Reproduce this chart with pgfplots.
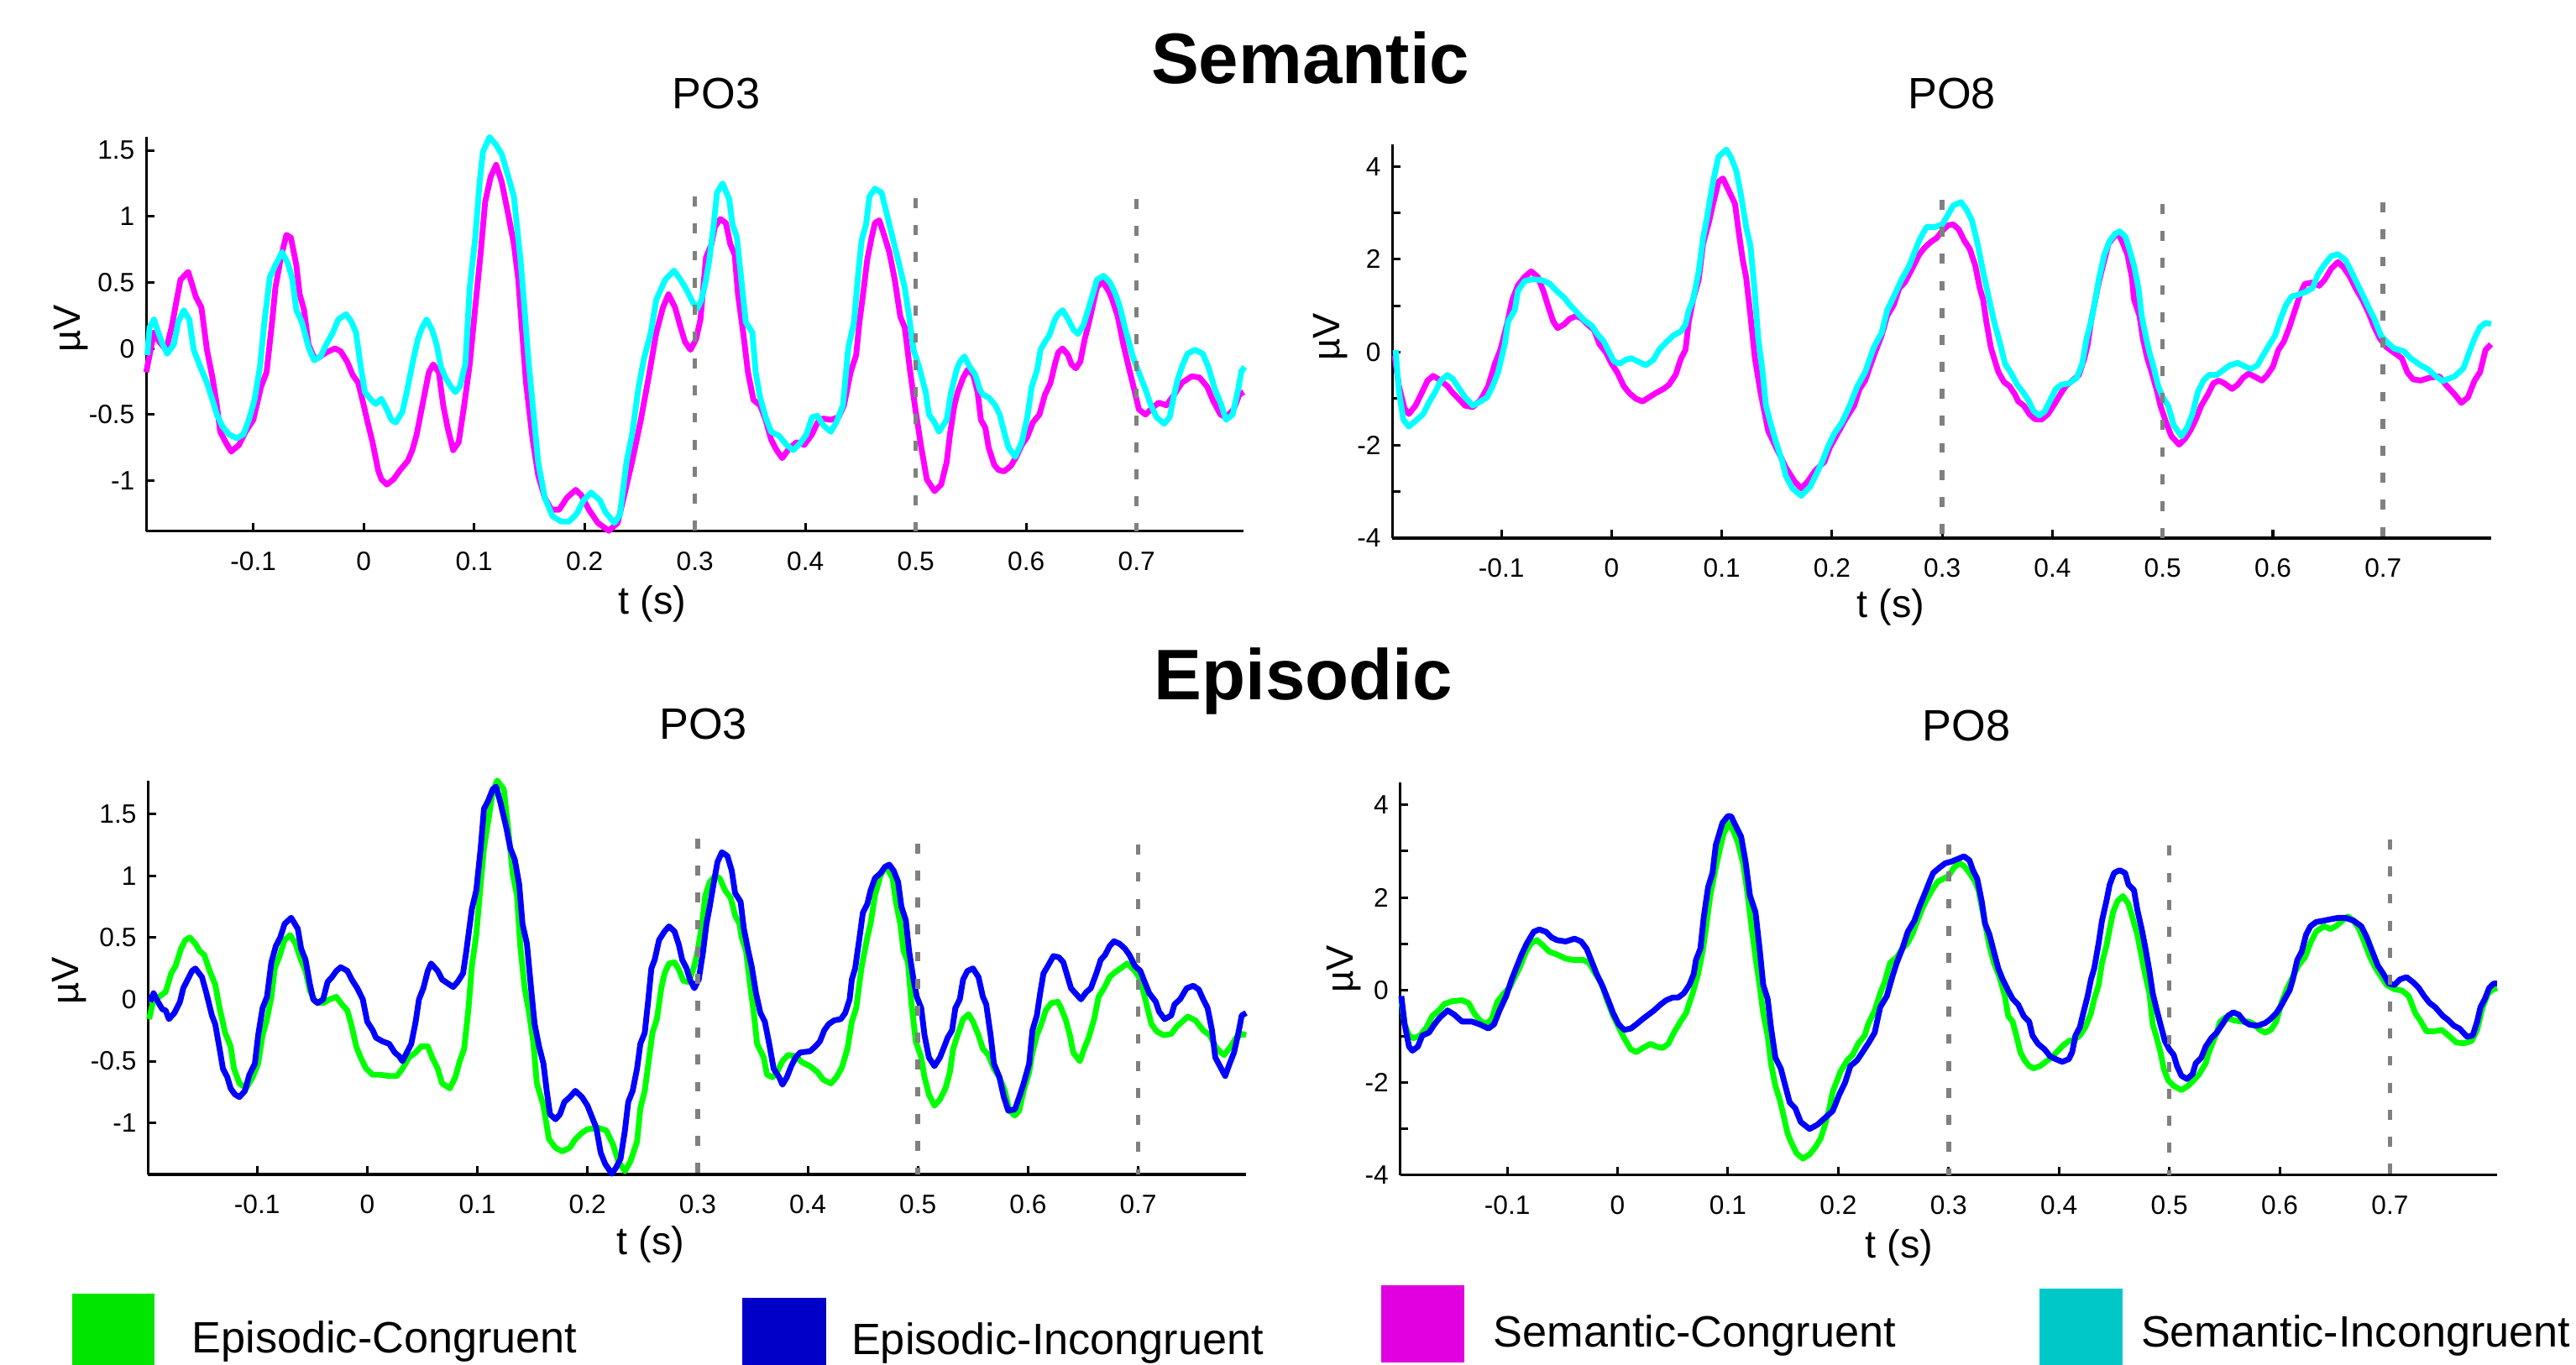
\documentclass[border=0pt]{standalone}
\usepackage{fontspec}
\setmainfont{Liberation Sans}
\usepackage{pgfplots}
\usepackage{pgfplotstable}
\pgfplotsset{compat=1.18}

\definecolor{cmag}{RGB}{255,0,255}
\definecolor{ccya}{RGB}{0,255,255}
\definecolor{cgre}{RGB}{0,255,0}
\definecolor{cblu}{RGB}{0,0,255}
\definecolor{lgre}{RGB}{0,229,0}
\definecolor{lblu}{RGB}{0,0,200}
\definecolor{lmag}{RGB}{224,0,224}
\definecolor{lcya}{RGB}{0,200,200}
\definecolor{dgray}{RGB}{128,128,128}

% ---- semantic, PO3
\pgfplotstableread{
t v
-0.197 -0.18
-0.190 0.12
-0.185 0.05
-0.179 -0.01
-0.174 0.16
-0.166 0.52
-0.159 0.58
-0.152 0.39
-0.147 0.31
-0.142 -0.01
-0.137 -0.22
-0.133 -0.43
-0.130 -0.63
-0.125 -0.71
-0.120 -0.78
-0.113 -0.73
-0.107 -0.63
-0.100 -0.54
-0.093 -0.29
-0.088 -0.18
-0.083 0.20
-0.080 0.46
-0.075 0.69
-0.070 0.86
-0.066 0.84
-0.061 0.63
-0.058 0.41
-0.054 0.29
-0.050 0.03
-0.045 -0.07
-0.041 -0.07
-0.034 -0.03
-0.026 0.00
-0.021 -0.02
-0.015 -0.10
-0.010 -0.20
-0.005 -0.26
0.000 -0.43
0.003 -0.54
0.008 -0.71
0.013 -0.92
0.016 -0.99
0.021 -1.03
0.027 -0.99
0.033 -0.92
0.040 -0.85
0.044 -0.77
0.048 -0.65
0.051 -0.52
0.055 -0.35
0.059 -0.18
0.063 -0.12
0.068 -0.18
0.072 -0.43
0.076 -0.60
0.081 -0.77
0.086 -0.71
0.091 -0.43
0.096 -0.12
0.101 0.31
0.106 0.73
0.110 1.11
0.115 1.30
0.120 1.39
0.125 1.26
0.131 1.01
0.136 0.79
0.140 0.52
0.144 0.07
0.147 -0.26
0.153 -0.69
0.158 -0.96
0.164 -1.13
0.170 -1.22
0.177 -1.22
0.184 -1.13
0.192 -1.07
0.197 -1.11
0.204 -1.22
0.212 -1.32
0.222 -1.38
0.230 -1.32
0.236 -1.11
0.243 -0.86
0.251 -0.54
0.258 -0.22
0.265 0.12
0.271 0.31
0.276 0.41
0.282 0.31
0.287 0.16
0.291 0.05
0.296 -0.01
0.301 0.07
0.305 0.22
0.310 0.69
0.315 0.79
0.318 0.92
0.323 0.98
0.328 0.95
0.332 0.79
0.336 0.71
0.339 0.41
0.344 0.10
0.348 -0.18
0.353 -0.39
0.359 -0.43
0.364 -0.54
0.369 -0.69
0.374 -0.77
0.379 -0.83
0.385 -0.76
0.392 -0.71
0.399 -0.73
0.406 -0.65
0.411 -0.56
0.416 -0.53
0.423 -0.54
0.430 -0.52
0.435 -0.43
0.441 -0.18
0.446 -0.05
0.449 0.20
0.453 0.46
0.456 0.67
0.460 0.84
0.463 0.95
0.467 0.97
0.472 0.84
0.476 0.73
0.481 0.52
0.486 0.24
0.490 0.16
0.495 -0.18
0.500 -0.48
0.505 -0.75
0.510 -0.99
0.517 -1.08
0.523 -1.03
0.528 -0.86
0.531 -0.65
0.535 -0.43
0.538 -0.33
0.543 -0.22
0.547 -0.16
0.552 -0.20
0.556 -0.33
0.559 -0.54
0.563 -0.60
0.566 -0.75
0.571 -0.88
0.575 -0.92
0.580 -0.93
0.586 -0.89
0.591 -0.82
0.596 -0.73
0.601 -0.67
0.606 -0.56
0.612 -0.50
0.617 -0.35
0.622 -0.26
0.626 -0.12
0.629 -0.03
0.633 0.00
0.638 -0.05
0.641 -0.12
0.645 -0.15
0.649 -0.10
0.653 0.07
0.657 0.20
0.661 0.35
0.664 0.46
0.669 0.51
0.675 0.43
0.678 0.37
0.683 0.24
0.688 0.03
0.694 -0.18
0.699 -0.35
0.702 -0.46
0.708 -0.50
0.713 -0.46
0.720 -0.41
0.727 -0.43
0.734 -0.35
0.741 -0.26
0.750 -0.21
0.757 -0.22
0.764 -0.29
0.769 -0.39
0.776 -0.50
0.781 -0.52
0.788 -0.46
0.793 -0.35
0.797 -0.33
}\semPOthreeCon

\pgfplotstableread{
t v
-0.196 -0.05
-0.194 0.16
-0.190 0.22
-0.186 0.12
-0.182 0.03
-0.178 -0.04
-0.172 0.03
-0.168 0.20
-0.163 0.29
-0.158 0.22
-0.154 -0.01
-0.148 -0.14
-0.142 -0.26
-0.137 -0.39
-0.133 -0.50
-0.128 -0.59
-0.122 -0.65
-0.115 -0.68
-0.109 -0.65
-0.104 -0.54
-0.099 -0.39
-0.094 -0.14
-0.090 0.20
-0.085 0.54
-0.080 0.63
-0.074 0.73
-0.069 0.65
-0.065 0.54
-0.061 0.29
-0.056 0.20
-0.050 0.01
-0.045 -0.09
-0.039 -0.06
-0.034 0.03
-0.028 0.12
-0.023 0.22
-0.016 0.26
-0.011 0.20
-0.007 0.12
-0.003 -0.12
0.001 -0.33
0.007 -0.39
0.011 -0.42
0.016 -0.38
0.022 -0.48
0.025 -0.54
0.029 -0.56
0.035 -0.48
0.039 -0.33
0.044 -0.12
0.049 0.07
0.053 0.16
0.057 0.22
0.062 0.14
0.066 0.03
0.070 -0.14
0.074 -0.22
0.079 -0.29
0.083 -0.33
0.087 -0.29
0.092 -0.12
0.096 0.46
0.101 0.84
0.105 1.26
0.108 1.49
0.114 1.60
0.120 1.54
0.125 1.47
0.131 1.30
0.136 1.15
0.142 0.67
0.145 0.37
0.149 -0.07
0.155 -0.60
0.158 -0.86
0.164 -1.13
0.171 -1.27
0.179 -1.31
0.186 -1.31
0.193 -1.25
0.199 -1.15
0.206 -1.09
0.214 -1.15
0.219 -1.24
0.227 -1.32
0.232 -1.26
0.238 -0.86
0.243 -0.65
0.249 -0.29
0.254 -0.07
0.260 0.12
0.265 0.37
0.273 0.52
0.281 0.59
0.287 0.52
0.292 0.45
0.298 0.35
0.302 0.30
0.306 0.37
0.310 0.52
0.313 0.67
0.317 0.94
0.320 1.18
0.325 1.25
0.331 1.13
0.334 0.94
0.338 0.84
0.342 0.52
0.346 0.20
0.352 0.12
0.355 -0.18
0.359 -0.37
0.364 -0.52
0.369 -0.63
0.376 -0.66
0.383 -0.73
0.389 -0.77
0.395 -0.72
0.401 -0.65
0.406 -0.52
0.411 -0.51
0.416 -0.58
0.423 -0.63
0.428 -0.56
0.434 -0.43
0.439 0.01
0.444 0.20
0.448 0.58
0.451 0.82
0.455 0.94
0.458 1.15
0.463 1.21
0.469 1.18
0.474 1.01
0.479 0.84
0.484 0.67
0.490 0.46
0.494 0.24
0.498 -0.01
0.503 -0.14
0.509 -0.33
0.512 -0.50
0.517 -0.56
0.521 -0.63
0.528 -0.54
0.532 -0.33
0.537 -0.16
0.540 -0.10
0.544 -0.06
0.549 -0.14
0.554 -0.20
0.558 -0.31
0.561 -0.35
0.566 -0.37
0.572 -0.43
0.576 -0.50
0.580 -0.63
0.584 -0.75
0.590 -0.82
0.596 -0.71
0.601 -0.52
0.605 -0.29
0.610 -0.16
0.613 -0.01
0.617 0.05
0.621 0.10
0.626 0.22
0.629 0.26
0.633 0.29
0.638 0.22
0.643 0.14
0.647 0.11
0.652 0.18
0.656 0.29
0.661 0.43
0.664 0.52
0.670 0.55
0.676 0.50
0.681 0.41
0.685 0.31
0.690 0.14
0.697 -0.07
0.702 -0.18
0.708 -0.31
0.713 -0.43
0.718 -0.52
0.725 -0.57
0.730 -0.52
0.734 -0.35
0.737 -0.24
0.741 -0.14
0.746 -0.04
0.753 -0.01
0.760 -0.04
0.765 -0.14
0.771 -0.31
0.776 -0.41
0.781 -0.54
0.787 -0.50
0.792 -0.31
0.795 -0.17
0.798 -0.14
}\semPOthreeInc

% ---- semantic, PO8
\pgfplotstableread{
t v
-0.197 -0.07
-0.193 -0.73
-0.188 -1.21
-0.184 -1.33
-0.178 -1.15
-0.173 -0.91
-0.167 -0.61
-0.162 -0.51
-0.157 -0.58
-0.149 -0.73
-0.144 -0.88
-0.139 -1.00
-0.133 -1.15
-0.126 -1.18
-0.119 -1.03
-0.112 -0.73
-0.106 -0.25
-0.101 0.05
-0.095 0.60
-0.090 1.14
-0.085 1.44
-0.079 1.62
-0.073 1.74
-0.067 1.62
-0.062 1.32
-0.058 1.02
-0.053 0.66
-0.049 0.52
-0.043 0.60
-0.038 0.72
-0.032 0.78
-0.027 0.72
-0.022 0.60
-0.016 0.48
-0.011 0.17
-0.005 -0.01
0.000 -0.25
0.005 -0.43
0.011 -0.73
0.016 -0.88
0.022 -1.00
0.028 -1.06
0.034 -0.97
0.040 -0.88
0.047 -0.79
0.052 -0.70
0.058 -0.49
0.063 -0.13
0.067 0.05
0.070 0.66
0.074 1.14
0.079 1.56
0.083 2.34
0.088 2.77
0.092 3.19
0.097 3.67
0.101 3.74
0.106 3.49
0.112 3.19
0.115 2.64
0.119 1.98
0.122 1.62
0.126 0.78
0.130 -0.13
0.135 -0.85
0.139 -1.33
0.142 -1.69
0.148 -1.99
0.153 -2.23
0.158 -2.48
0.166 -2.78
0.172 -2.93
0.178 -2.78
0.185 -2.54
0.193 -2.36
0.198 -2.05
0.205 -1.75
0.212 -1.45
0.220 -1.15
0.225 -0.79
0.230 -0.61
0.238 -0.07
0.245 0.36
0.250 0.78
0.256 1.02
0.261 1.38
0.266 1.50
0.274 1.86
0.279 2.10
0.284 2.25
0.289 2.36
0.295 2.46
0.300 2.61
0.305 2.73
0.310 2.75
0.315 2.64
0.320 2.40
0.325 2.22
0.330 1.86
0.334 1.38
0.337 1.14
0.340 0.66
0.344 0.11
0.347 -0.13
0.351 -0.43
0.356 -0.64
0.361 -0.73
0.366 -0.91
0.369 -1.06
0.374 -1.15
0.379 -1.33
0.384 -1.44
0.390 -1.45
0.396 -1.33
0.401 -1.15
0.407 -0.91
0.412 -0.73
0.418 -0.61
0.424 -0.49
0.429 -0.13
0.432 0.17
0.435 0.66
0.439 1.14
0.442 1.50
0.447 1.98
0.451 2.34
0.456 2.49
0.460 2.55
0.464 2.34
0.468 2.10
0.472 1.62
0.474 1.14
0.479 0.78
0.482 0.30
0.486 -0.13
0.490 -0.43
0.495 -0.85
0.498 -1.15
0.503 -1.51
0.508 -1.81
0.515 -1.99
0.520 -1.87
0.525 -1.69
0.530 -1.45
0.535 -1.15
0.541 -0.91
0.546 -0.67
0.551 -0.61
0.556 -0.67
0.563 -0.79
0.568 -0.70
0.573 -0.55
0.578 -0.46
0.583 -0.52
0.590 -0.61
0.595 -0.49
0.600 -0.31
0.605 0.05
0.610 0.23
0.615 0.54
0.620 0.90
0.625 1.26
0.629 1.47
0.636 1.50
0.642 1.43
0.647 1.56
0.653 1.80
0.659 1.94
0.664 1.83
0.670 1.62
0.675 1.38
0.681 1.14
0.687 0.84
0.692 0.54
0.697 0.30
0.703 0.11
0.710 -0.01
0.717 -0.13
0.722 -0.43
0.727 -0.58
0.734 -0.61
0.742 -0.55
0.751 -0.52
0.758 -0.73
0.765 -0.91
0.771 -1.09
0.777 -0.97
0.783 -0.61
0.788 -0.43
0.793 0.05
0.798 0.17
}\semPOeightCon

\pgfplotstableread{
t v
-0.196 0.05
-0.193 -0.85
-0.189 -1.45
-0.184 -1.60
-0.178 -1.48
-0.171 -1.33
-0.166 -1.09
-0.160 -0.85
-0.155 -0.61
-0.149 -0.49
-0.144 -0.58
-0.139 -0.76
-0.133 -0.97
-0.126 -1.15
-0.119 -1.06
-0.113 -0.97
-0.108 -0.73
-0.103 -0.43
-0.097 0.17
-0.094 0.66
-0.088 0.90
-0.085 1.32
-0.079 1.53
-0.072 1.57
-0.063 1.55
-0.056 1.47
-0.050 1.32
-0.043 1.17
-0.038 1.02
-0.032 0.87
-0.025 0.69
-0.018 0.57
-0.013 0.39
-0.007 0.23
-0.002 -0.01
0.002 -0.19
0.007 -0.25
0.013 -0.16
0.018 -0.13
0.023 -0.19
0.031 -0.28
0.038 -0.16
0.043 0.05
0.049 0.20
0.056 0.36
0.063 0.45
0.067 0.60
0.070 0.90
0.074 1.14
0.079 1.74
0.083 2.46
0.086 2.83
0.092 3.67
0.097 4.21
0.104 4.36
0.108 4.21
0.113 3.91
0.117 3.43
0.122 2.70
0.126 2.28
0.130 1.26
0.133 0.30
0.137 -0.43
0.140 -1.15
0.144 -1.51
0.149 -1.93
0.155 -2.36
0.158 -2.66
0.164 -2.93
0.172 -3.09
0.180 -2.90
0.185 -2.66
0.191 -2.36
0.196 -2.05
0.202 -1.75
0.209 -1.51
0.216 -1.15
0.223 -0.73
0.230 -0.43
0.238 0.11
0.245 0.42
0.250 0.90
0.256 1.20
0.263 1.56
0.270 1.86
0.275 2.16
0.279 2.40
0.283 2.58
0.286 2.70
0.293 2.69
0.300 2.75
0.305 2.95
0.310 3.16
0.317 3.23
0.322 3.07
0.327 2.83
0.332 2.34
0.337 1.74
0.342 1.20
0.347 0.66
0.352 0.23
0.357 -0.25
0.362 -0.43
0.368 -0.70
0.373 -0.85
0.378 -1.03
0.383 -1.27
0.388 -1.36
0.393 -1.27
0.398 -1.03
0.403 -0.79
0.408 -0.70
0.415 -0.67
0.422 -0.55
0.427 -0.25
0.431 0.30
0.435 0.66
0.439 1.14
0.442 1.56
0.447 2.10
0.452 2.40
0.457 2.55
0.461 2.60
0.466 2.49
0.469 2.28
0.474 1.86
0.478 1.38
0.481 0.78
0.485 0.30
0.488 -0.01
0.491 -0.25
0.496 -0.73
0.500 -0.97
0.505 -1.15
0.510 -1.57
0.517 -1.81
0.522 -1.63
0.527 -1.33
0.532 -0.85
0.537 -0.61
0.542 -0.49
0.549 -0.49
0.554 -0.40
0.561 -0.28
0.568 -0.23
0.575 -0.31
0.580 -0.36
0.586 -0.28
0.591 -0.07
0.597 0.17
0.602 0.36
0.607 0.72
0.612 1.02
0.617 1.20
0.622 1.23
0.629 1.29
0.636 1.38
0.641 1.68
0.646 1.86
0.653 2.07
0.659 2.11
0.666 1.98
0.671 1.74
0.676 1.50
0.681 1.26
0.687 0.96
0.692 0.72
0.698 0.36
0.703 0.23
0.710 0.08
0.719 0.02
0.725 -0.13
0.734 -0.28
0.741 -0.37
0.748 -0.52
0.754 -0.62
0.765 -0.52
0.773 -0.34
0.778 -0.01
0.783 0.30
0.788 0.54
0.793 0.63
0.798 0.61
}\semPOeightInc

% ---- episodic, PO3
\pgfplotstableread{
t v
-0.198 -0.16
-0.194 0.00
-0.189 0.02
-0.183 0.06
-0.178 0.21
-0.174 0.27
-0.169 0.41
-0.165 0.48
-0.161 0.50
-0.156 0.45
-0.152 0.39
-0.148 0.36
-0.143 0.23
-0.138 0.12
-0.134 -0.07
-0.129 -0.27
-0.124 -0.38
-0.121 -0.56
-0.116 -0.68
-0.110 -0.72
-0.104 -0.63
-0.099 -0.52
-0.095 -0.29
-0.091 -0.16
-0.087 0.02
-0.084 0.25
-0.080 0.34
-0.075 0.48
-0.070 0.52
-0.065 0.45
-0.061 0.34
-0.056 0.23
-0.052 0.07
-0.047 -0.02
-0.040 -0.03
-0.034 0.00
-0.028 0.02
-0.023 -0.04
-0.018 -0.09
-0.014 -0.22
-0.010 -0.38
-0.006 -0.47
-0.001 -0.56
0.005 -0.61
0.012 -0.61
0.020 -0.62
0.027 -0.62
0.032 -0.56
0.038 -0.47
0.044 -0.43
0.049 -0.38
0.055 -0.38
0.059 -0.47
0.064 -0.56
0.068 -0.68
0.075 -0.72
0.080 -0.63
0.084 -0.50
0.088 -0.40
0.092 -0.07
0.095 0.27
0.099 0.52
0.103 0.93
0.106 1.22
0.110 1.45
0.114 1.68
0.118 1.77
0.124 1.70
0.128 1.38
0.132 1.02
0.136 0.84
0.139 0.43
0.143 0.09
0.147 -0.11
0.151 -0.36
0.154 -0.68
0.160 -0.86
0.165 -1.13
0.171 -1.20
0.177 -1.23
0.184 -1.20
0.189 -1.13
0.195 -1.08
0.200 -1.05
0.210 -1.04
0.217 -1.06
0.223 -1.17
0.228 -1.31
0.234 -1.39
0.239 -1.31
0.245 -1.15
0.248 -0.88
0.252 -0.74
0.256 -0.47
0.259 -0.27
0.263 -0.16
0.267 0.09
0.270 0.21
0.274 0.29
0.279 0.30
0.283 0.24
0.287 0.15
0.292 0.14
0.297 0.27
0.300 0.39
0.304 0.61
0.307 0.84
0.311 0.95
0.316 1.00
0.320 0.98
0.325 0.88
0.330 0.82
0.334 0.68
0.338 0.61
0.340 0.50
0.344 0.39
0.347 0.16
0.351 -0.11
0.354 -0.36
0.360 -0.47
0.363 -0.61
0.368 -0.63
0.372 -0.59
0.377 -0.50
0.382 -0.45
0.389 -0.46
0.395 -0.51
0.402 -0.54
0.409 -0.59
0.414 -0.65
0.421 -0.68
0.426 -0.63
0.431 -0.55
0.436 -0.40
0.440 -0.18
0.444 -0.07
0.449 0.27
0.454 0.50
0.457 0.61
0.461 0.84
0.466 1.00
0.471 1.08
0.477 0.98
0.480 0.79
0.484 0.61
0.487 0.39
0.491 0.30
0.494 -0.02
0.498 -0.34
0.503 -0.47
0.506 -0.63
0.510 -0.77
0.515 -0.86
0.520 -0.81
0.525 -0.72
0.529 -0.59
0.532 -0.40
0.536 -0.29
0.541 -0.16
0.546 -0.12
0.550 -0.18
0.555 -0.29
0.559 -0.40
0.564 -0.45
0.569 -0.56
0.574 -0.63
0.579 -0.74
0.583 -0.90
0.588 -0.94
0.592 -0.90
0.596 -0.74
0.601 -0.59
0.604 -0.43
0.608 -0.29
0.612 -0.20
0.616 -0.09
0.621 -0.03
0.627 -0.02
0.630 -0.07
0.634 -0.16
0.638 -0.29
0.641 -0.43
0.647 -0.50
0.651 -0.40
0.655 -0.31
0.660 -0.16
0.664 0.02
0.669 0.09
0.674 0.18
0.679 0.22
0.684 0.25
0.690 0.29
0.697 0.23
0.702 0.16
0.707 -0.02
0.712 -0.20
0.717 -0.26
0.723 -0.29
0.730 -0.28
0.735 -0.22
0.740 -0.18
0.745 -0.14
0.752 -0.17
0.759 -0.25
0.765 -0.29
0.770 -0.38
0.775 -0.43
0.778 -0.45
0.784 -0.38
0.789 -0.31
0.794 -0.28
0.798 -0.29
}\epiPOthreeCon

\pgfplotstableread{
t v
-0.197 -0.02
-0.194 0.05
-0.190 -0.02
-0.186 -0.08
-0.183 -0.09
-0.180 -0.16
-0.175 -0.11
-0.170 -0.02
-0.167 0.09
-0.163 0.16
-0.159 0.23
-0.156 0.25
-0.150 0.18
-0.146 0.05
-0.141 -0.13
-0.138 -0.20
-0.134 -0.40
-0.131 -0.56
-0.127 -0.63
-0.124 -0.72
-0.120 -0.77
-0.116 -0.79
-0.111 -0.74
-0.107 -0.61
-0.102 -0.52
-0.099 -0.29
-0.095 -0.07
-0.091 0.02
-0.087 0.30
-0.083 0.43
-0.079 0.50
-0.075 0.61
-0.069 0.66
-0.063 0.57
-0.060 0.41
-0.056 0.32
-0.052 0.12
-0.049 0.00
-0.045 -0.03
-0.040 0.00
-0.036 0.14
-0.032 0.18
-0.028 0.23
-0.024 0.26
-0.018 0.23
-0.014 0.16
-0.009 0.09
-0.004 0.00
0.000 -0.18
0.005 -0.25
0.008 -0.31
0.014 -0.34
0.020 -0.36
0.025 -0.43
0.029 -0.46
0.032 -0.50
0.036 -0.43
0.040 -0.36
0.044 -0.18
0.047 0.00
0.051 0.09
0.055 0.23
0.058 0.29
0.064 0.23
0.068 0.16
0.073 0.13
0.078 0.10
0.082 0.14
0.087 0.21
0.090 0.39
0.095 0.73
0.099 0.88
0.103 1.22
0.106 1.54
0.110 1.61
0.114 1.70
0.117 1.72
0.121 1.59
0.126 1.40
0.130 1.22
0.134 1.13
0.138 0.93
0.141 0.61
0.145 0.45
0.149 0.07
0.152 -0.20
0.156 -0.38
0.160 -0.52
0.163 -0.74
0.166 -0.93
0.171 -0.97
0.175 -0.93
0.179 -0.83
0.184 -0.79
0.189 -0.74
0.195 -0.79
0.200 -0.86
0.204 -0.95
0.208 -1.04
0.212 -1.24
0.216 -1.33
0.222 -1.41
0.226 -1.36
0.230 -1.29
0.234 -1.06
0.237 -0.83
0.241 -0.74
0.245 -0.56
0.248 -0.36
0.252 -0.27
0.255 -0.02
0.258 0.25
0.261 0.32
0.265 0.48
0.270 0.55
0.274 0.59
0.279 0.55
0.283 0.44
0.286 0.32
0.290 0.25
0.293 0.16
0.297 0.09
0.301 0.16
0.305 0.39
0.308 0.61
0.311 0.75
0.314 0.91
0.318 1.11
0.322 1.19
0.327 1.16
0.331 1.04
0.334 0.86
0.339 0.79
0.342 0.57
0.346 0.39
0.349 0.27
0.353 0.05
0.357 -0.11
0.361 -0.18
0.365 -0.36
0.369 -0.56
0.374 -0.63
0.377 -0.69
0.381 -0.63
0.385 -0.54
0.389 -0.47
0.393 -0.43
0.402 -0.42
0.407 -0.38
0.411 -0.34
0.415 -0.25
0.419 -0.20
0.424 -0.17
0.430 -0.16
0.434 -0.11
0.438 0.00
0.440 0.16
0.443 0.25
0.447 0.50
0.450 0.70
0.454 0.77
0.457 0.88
0.461 0.98
0.466 1.02
0.470 1.07
0.474 1.09
0.478 1.04
0.482 0.95
0.485 0.75
0.489 0.64
0.492 0.39
0.496 0.16
0.499 0.02
0.503 -0.07
0.506 -0.29
0.510 -0.47
0.515 -0.54
0.520 -0.47
0.524 -0.38
0.527 -0.31
0.531 -0.25
0.534 -0.07
0.538 0.00
0.541 0.16
0.545 0.23
0.550 0.25
0.555 0.18
0.559 0.02
0.562 -0.04
0.566 -0.29
0.569 -0.52
0.574 -0.63
0.578 -0.79
0.582 -0.90
0.588 -0.89
0.592 -0.79
0.596 -0.68
0.601 -0.52
0.604 -0.25
0.608 -0.13
0.611 0.05
0.614 0.21
0.618 0.27
0.623 0.35
0.628 0.34
0.632 0.30
0.635 0.21
0.639 0.09
0.643 0.05
0.648 0.00
0.653 0.06
0.657 0.09
0.662 0.21
0.666 0.32
0.670 0.36
0.674 0.43
0.678 0.47
0.683 0.45
0.688 0.41
0.692 0.36
0.697 0.27
0.702 0.23
0.705 0.16
0.710 0.05
0.716 -0.02
0.719 -0.10
0.724 -0.16
0.730 -0.13
0.733 -0.04
0.738 0.00
0.744 0.09
0.750 0.11
0.755 0.08
0.759 0.00
0.763 -0.07
0.767 -0.25
0.770 -0.47
0.773 -0.52
0.779 -0.62
0.783 -0.52
0.787 -0.43
0.791 -0.27
0.794 -0.13
0.798 -0.11
}\epiPOthreeInc

% ---- episodic, PO8
\pgfplotstableread{
t v
-0.196 -0.25
-0.193 -0.74
-0.189 -0.98
-0.185 -1.04
-0.179 -0.98
-0.173 -0.80
-0.168 -0.56
-0.162 -0.44
-0.157 -0.30
-0.150 -0.24
-0.141 -0.22
-0.135 -0.28
-0.130 -0.50
-0.125 -0.65
-0.119 -0.74
-0.114 -0.62
-0.109 -0.25
-0.103 -0.07
-0.098 0.05
-0.093 0.29
-0.089 0.47
-0.083 0.83
-0.078 1.02
-0.073 1.08
-0.067 0.95
-0.062 0.83
-0.055 0.77
-0.047 0.68
-0.040 0.65
-0.031 0.65
-0.026 0.59
-0.020 0.35
-0.015 0.17
-0.010 -0.19
-0.004 -0.56
0.001 -0.80
0.006 -1.04
0.012 -1.28
0.017 -1.34
0.023 -1.25
0.030 -1.16
0.035 -1.22
0.041 -1.25
0.046 -1.16
0.051 -0.92
0.057 -0.68
0.062 -0.50
0.068 -0.07
0.073 0.35
0.077 0.83
0.080 1.32
0.084 2.04
0.089 2.65
0.093 3.07
0.096 3.37
0.101 3.61
0.105 3.43
0.109 3.19
0.114 2.71
0.118 2.04
0.121 1.44
0.125 0.71
0.129 0.05
0.132 -0.50
0.136 -0.98
0.139 -1.58
0.143 -2.07
0.147 -2.37
0.150 -2.67
0.154 -3.09
0.157 -3.27
0.162 -3.52
0.168 -3.64
0.174 -3.55
0.179 -3.40
0.184 -3.21
0.188 -2.91
0.192 -2.55
0.195 -2.19
0.199 -1.95
0.202 -1.76
0.208 -1.52
0.213 -1.40
0.218 -1.16
0.224 -0.98
0.227 -0.74
0.233 -0.44
0.238 -0.07
0.242 0.17
0.247 0.59
0.253 0.71
0.258 0.89
0.263 1.02
0.267 1.20
0.271 1.45
0.276 1.75
0.280 1.95
0.285 2.16
0.290 2.34
0.295 2.40
0.300 2.47
0.305 2.65
0.310 2.74
0.314 2.68
0.319 2.53
0.324 2.34
0.327 2.16
0.331 1.68
0.334 1.32
0.337 0.95
0.341 0.59
0.346 0.29
0.351 -0.13
0.354 -0.56
0.358 -0.68
0.362 -1.04
0.365 -1.34
0.369 -1.52
0.373 -1.64
0.377 -1.69
0.383 -1.64
0.388 -1.55
0.393 -1.46
0.398 -1.34
0.404 -1.19
0.409 -1.10
0.414 -1.07
0.419 -0.98
0.424 -0.80
0.429 -0.50
0.432 -0.19
0.436 0.11
0.439 0.59
0.443 0.95
0.446 1.32
0.449 1.68
0.453 1.92
0.458 2.03
0.463 1.86
0.466 1.62
0.471 1.20
0.475 0.71
0.478 0.35
0.482 -0.07
0.485 -0.74
0.488 -0.98
0.492 -1.34
0.495 -1.70
0.499 -1.95
0.504 -2.07
0.511 -2.16
0.517 -2.07
0.522 -1.95
0.527 -1.82
0.533 -1.58
0.536 -1.34
0.539 -1.16
0.543 -0.92
0.546 -0.68
0.551 -0.59
0.558 -0.65
0.565 -0.68
0.572 -0.68
0.577 -0.74
0.582 -0.86
0.587 -0.92
0.592 -0.86
0.597 -0.68
0.602 -0.25
0.607 0.05
0.612 0.29
0.617 0.53
0.623 0.71
0.628 1.02
0.633 1.26
0.640 1.38
0.646 1.32
0.651 1.38
0.657 1.50
0.662 1.59
0.667 1.50
0.672 1.32
0.677 1.02
0.682 0.71
0.687 0.47
0.692 0.29
0.697 0.11
0.704 0.02
0.711 -0.01
0.717 -0.13
0.723 -0.50
0.728 -0.68
0.733 -0.89
0.740 -0.89
0.747 -0.86
0.753 -0.98
0.760 -1.13
0.767 -1.15
0.774 -1.10
0.779 -0.86
0.784 -0.37
0.789 -0.07
0.794 0.02
0.797 0.05
}\epiPOeightCon

\pgfplotstableread{
t v
-0.196 -0.13
-0.193 -0.74
-0.189 -1.22
-0.186 -1.31
-0.181 -1.22
-0.177 -0.98
-0.171 -0.92
-0.166 -0.74
-0.161 -0.59
-0.154 -0.44
-0.148 -0.53
-0.141 -0.68
-0.132 -0.68
-0.125 -0.74
-0.117 -0.83
-0.112 -0.74
-0.107 -0.44
-0.101 -0.13
-0.096 0.23
-0.092 0.47
-0.087 0.77
-0.082 1.02
-0.076 1.26
-0.071 1.31
-0.065 1.26
-0.060 1.14
-0.055 1.08
-0.047 1.05
-0.039 1.11
-0.033 1.05
-0.028 0.89
-0.023 0.59
-0.019 0.35
-0.013 0.05
-0.008 -0.25
-0.004 -0.50
0.001 -0.74
0.006 -0.86
0.012 -0.83
0.017 -0.74
0.023 -0.62
0.028 -0.53
0.033 -0.44
0.039 -0.31
0.044 -0.22
0.050 -0.16
0.055 -0.16
0.060 -0.07
0.065 0.11
0.069 0.35
0.071 0.65
0.075 0.89
0.078 1.56
0.082 2.22
0.086 2.53
0.089 3.13
0.095 3.61
0.100 3.76
0.103 3.75
0.107 3.55
0.112 3.31
0.116 2.77
0.120 2.04
0.125 1.68
0.129 0.83
0.132 0.11
0.136 -0.19
0.139 -0.80
0.143 -1.46
0.148 -1.70
0.152 -2.07
0.156 -2.43
0.161 -2.55
0.166 -2.85
0.174 -3.00
0.181 -2.91
0.188 -2.76
0.195 -2.61
0.201 -2.25
0.206 -2.01
0.211 -1.64
0.217 -1.52
0.222 -1.34
0.227 -1.16
0.233 -0.92
0.238 -0.37
0.244 -0.13
0.249 0.29
0.253 0.59
0.258 0.89
0.263 1.26
0.269 1.50
0.274 1.83
0.278 2.06
0.283 2.36
0.286 2.53
0.292 2.65
0.297 2.74
0.303 2.78
0.308 2.83
0.314 2.89
0.319 2.80
0.322 2.59
0.326 2.40
0.330 1.92
0.333 1.44
0.337 1.20
0.341 0.83
0.345 0.47
0.349 0.23
0.354 -0.01
0.358 -0.19
0.363 -0.31
0.368 -0.56
0.373 -0.68
0.376 -0.98
0.381 -1.16
0.387 -1.28
0.392 -1.43
0.397 -1.49
0.403 -1.55
0.409 -1.49
0.412 -1.34
0.415 -0.98
0.419 -0.80
0.422 -0.50
0.426 -0.13
0.429 0.23
0.432 0.47
0.436 1.02
0.439 1.50
0.443 1.92
0.446 2.28
0.450 2.53
0.455 2.59
0.460 2.53
0.463 2.28
0.468 2.16
0.471 1.74
0.475 1.32
0.478 0.95
0.482 0.41
0.485 -0.07
0.488 -0.37
0.492 -0.74
0.496 -1.10
0.500 -1.28
0.504 -1.40
0.507 -1.64
0.511 -1.85
0.516 -1.92
0.521 -1.82
0.524 -1.58
0.529 -1.46
0.533 -1.22
0.538 -1.04
0.543 -0.92
0.548 -0.74
0.553 -0.56
0.558 -0.48
0.563 -0.53
0.568 -0.68
0.573 -0.75
0.580 -0.77
0.587 -0.71
0.592 -0.62
0.597 -0.50
0.602 -0.31
0.606 -0.13
0.609 -0.01
0.612 0.23
0.616 0.65
0.620 0.83
0.624 1.20
0.628 1.38
0.633 1.47
0.640 1.50
0.646 1.53
0.653 1.56
0.660 1.56
0.667 1.50
0.674 1.38
0.679 1.14
0.684 0.83
0.689 0.53
0.694 0.35
0.699 0.14
0.704 0.11
0.709 0.23
0.715 0.28
0.721 0.17
0.726 0.05
0.731 -0.13
0.736 -0.28
0.741 -0.37
0.748 -0.56
0.753 -0.65
0.758 -0.77
0.763 -0.83
0.770 -1.01
0.775 -0.98
0.779 -0.68
0.782 -0.37
0.786 -0.19
0.790 0.05
0.794 0.14
0.797 0.14
}\epiPOeightInc

\pgfplotsset{
  erp/.style={
    scale only axis, clip=false,
    axis lines=left,
    axis line style={-, line width=1.1pt, black},
    tick align=inside,
    major tick length=3.5pt,
    tick style={black, line width=1.1pt},
    tick label style={font=\fontsize{11.5}{13}\selectfont},
    xtick={-0.1,0,0.1,0.2,0.3,0.4,0.5,0.6,0.7},
    xticklabels={-0.1,0,0.1,0.2,0.3,0.4,0.5,0.6,0.7},
    xticklabel style={yshift=-5.5pt},
    yticklabel style={xshift=-1.5pt},
    every axis plot/.append style={line width=2.5pt, line join=round},
  },
  small/.style={
    ytick={-1,-0.5,0,0.5,1,1.5},
    yticklabels={-1,-0.5,0,0.5,1,1.5},
  },
  big/.style={
    ymin=-4, ymax=4.48,
    ytick={-4,-3,-2,-1,0,1,2,3,4},
    yticklabels={-4,,-2,,0,,2,,4},
  },
  onset/.style={dgray, line width=2pt, dash pattern=on 4.3pt off 7.4pt},
}

\begin{document}
\begin{tikzpicture}[x=1cm,y=1cm]
\useasboundingbox (0,0) rectangle (39.2,20.775);

% Semantic, PO3
\begin{axis}[erp, small, at={(2.225cm,12.69cm)}, anchor=south west,
  width=16.7cm, height=5.998cm,
  xmin=-0.197, xmax=0.797, ymin=-1.383, ymax=1.6]
  \addplot[cmag] table[x=t,y=v] {\semPOthreeCon};
  \addplot[ccya] table[x=t,y=v] {\semPOthreeInc};
  \addplot[onset] coordinates {(0.3,1.15) (0.3,-1.383)};
  \addplot[onset] coordinates {(0.5,1.14) (0.5,-1.383)};
  \addplot[onset] coordinates {(0.7,1.13) (0.7,-1.383)};
\end{axis}

% Semantic, PO8
\begin{axis}[erp, big, at={(21.1875cm,12.585cm)}, anchor=south west,
  width=16.72cm, height=5.998cm,
  xmin=-0.199, xmax=0.798]
  \addplot[cmag] table[x=t,y=v] {\semPOeightCon};
  \addplot[ccya] table[x=t,y=v] {\semPOeightInc};
  \addplot[onset] coordinates {(0.3,3.28) (0.3,-4)};
  \addplot[onset] coordinates {(0.5,3.19) (0.5,-4)};
  \addplot[onset] coordinates {(0.7,3.22) (0.7,-4)};
\end{axis}

% Episodic, PO3
\begin{axis}[erp, small, at={(2.2525cm,2.9cm)}, anchor=south west,
  width=16.71cm, height=5.99cm,
  xmin=-0.199, xmax=0.798, ymin=-1.416, ymax=1.767]
  \addplot[cgre] table[x=t,y=v] {\epiPOthreeCon};
  \addplot[cblu] table[x=t,y=v] {\epiPOthreeInc};
  \addplot[onset] coordinates {(0.3,1.30) (0.3,-1.416)};
  \addplot[onset] coordinates {(0.5,1.26) (0.5,-1.416)};
  \addplot[onset] coordinates {(0.7,1.25) (0.7,-1.416)};
\end{axis}

% Episodic, PO8
\begin{axis}[erp, big, at={(21.3075cm,2.8875cm)}, anchor=south west,
  width=16.69cm, height=5.975cm,
  xmin=-0.197, xmax=0.797]
  \addplot[cgre] table[x=t,y=v] {\epiPOeightCon};
  \addplot[cblu] table[x=t,y=v] {\epiPOeightInc};
  \addplot[onset] coordinates {(0.3,3.14) (0.3,-4)};
  \addplot[onset] coordinates {(0.5,3.12) (0.5,-4)};
  \addplot[onset] coordinates {(0.7,3.25) (0.7,-4)};
\end{axis}

% titles and axis labels
\node[anchor=base, inner sep=0] at (19.94,19.505) {\fontsize{31}{36}\selectfont\bfseries Semantic};
\node[anchor=base, inner sep=0] at (19.83,10.125) {\fontsize{31}{36}\selectfont\bfseries Episodic};
\node[anchor=base, inner sep=0] at (10.9,19.125) {\fontsize{19}{22}\selectfont PO3};
\node[anchor=base, inner sep=0] at (29.7,19.125) {\fontsize{19}{22}\selectfont PO8};
\node[anchor=base, inner sep=0] at (10.7,9.525) {\fontsize{19}{22}\selectfont PO3};
\node[anchor=base, inner sep=0] at (29.925,9.5) {\fontsize{19}{22}\selectfont PO8};
\node[anchor=base, inner sep=0] at (9.925,11.43) {\fontsize{17}{19}\selectfont t (s)};
\node[anchor=base, inner sep=0] at (28.775,11.375) {\fontsize{17}{19}\selectfont t (s)};
\node[anchor=base, inner sep=0] at (9.9,1.675) {\fontsize{17}{19}\selectfont t (s)};
\node[anchor=base, inner sep=0] at (28.9,1.625) {\fontsize{17}{19}\selectfont t (s)};
\node[rotate=90, inner sep=0] at (1.075,15.775) {\fontsize{16.5}{19}\selectfont µV};
\node[rotate=90, inner sep=0] at (20.25,15.65) {\fontsize{16.5}{19}\selectfont µV};
\node[rotate=90, inner sep=0] at (1.05,5.85) {\fontsize{16.5}{19}\selectfont µV};
\node[rotate=90, inner sep=0] at (20.45,6.025) {\fontsize{16.5}{19}\selectfont µV};

% legend
\fill[lgre] (1.1,0) rectangle (2.35,1.09);
\fill[lblu] (11.3,0) rectangle (12.575,1.025);
\fill[lmag] (21.0175,0.035) rectangle (22.285,1.2175);
\fill[lcya] (31.0375,0) rectangle (32.3,1.1575);
\node[anchor=base west, inner sep=0] at (2.9125,0.1825) {\fontsize{19}{22}\selectfont Episodic-Congruent};
\node[anchor=base west, inner sep=0] at (12.95,0.1625) {\fontsize{19}{22}\selectfont Episodic-Incongruent};
\node[anchor=base west, inner sep=0] at (22.7175,0.28) {\fontsize{19}{22}\selectfont Semantic-Congruent};
\node[anchor=base west, inner sep=0] at (32.575,0.28) {\fontsize{19}{22}\selectfont Semantic-Incongruent};
\end{tikzpicture}
\end{document}
